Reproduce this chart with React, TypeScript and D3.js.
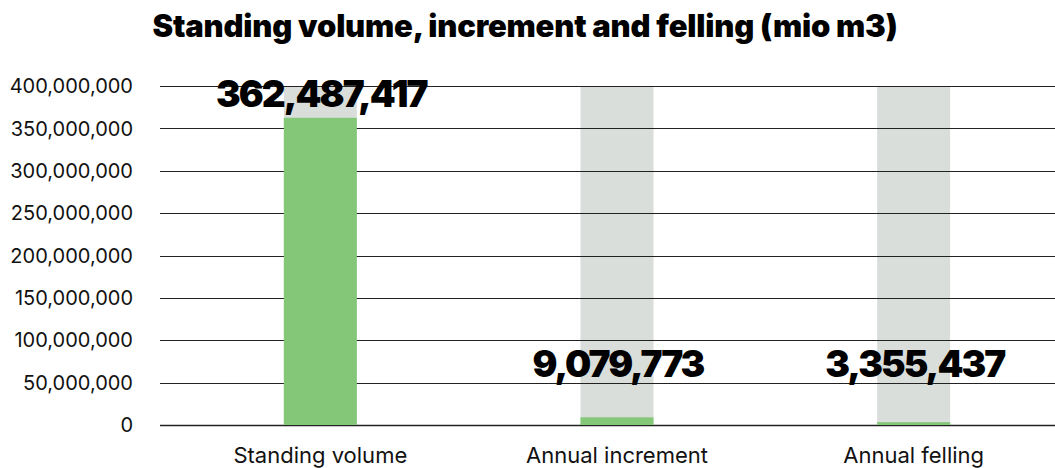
import React from "react";
import * as d3 from "d3";

// chart data
const categories: string[] = ["Standing volume", "Annual increment", "Annual felling"];
const values: number[] = [362487417, 9079773, 3355437];
const totals: number[] = [400000000, 400000000, 400000000];
const yTicks: number[] = [0, 50000000, 100000000, 150000000, 200000000, 250000000, 300000000, 350000000, 400000000];
const labelFloor: number = 44000000;

const W = 1055;
const H = 468;
const margin = { top: 86, bottom: 43, left: 160, right: 0 };
const barWidth = 73;

const GREEN = "#85c778";
const GREY = "#d9dedb";
const FONT = "Inter, 'Noto Sans', sans-serif";

export default function App() {
    const x = d3.scalePoint<string>()
        .domain(categories)
        .range([172, 1062])
        .padding(0.5);

    const y = d3.scaleLinear()
        .domain([0, 400000000])
        .range([H - margin.bottom, margin.top]);

    const fmt = d3.format(",");

    return (
        <svg
            width={W}
            height={H}
            style={{ position: "absolute", left: 0, top: 0, background: "#fff" }}
            fontFamily={FONT}
        >
            <text
                x={525}
                y={37}
                textAnchor="middle"
                fontSize={31}
                fontWeight={900}
                letterSpacing={-0.2}
                fill="#000"
            >
                Standing volume, increment and felling (mio m3)
            </text>

            {/* grey backdrop bars */}
            {categories.map((c, i) => (
                <rect
                    key={"bg" + c}
                    x={x(c)! - barWidth / 2}
                    y={y(totals[i])}
                    width={barWidth}
                    height={y(0) - y(totals[i])}
                    fill={GREY}
                />
            ))}

            {/* gridlines + tick labels */}
            {yTicks.map(t => (
                <g key={t}>
                    <line
                        x1={margin.left}
                        x2={W}
                        y1={Math.round(y(t)) + 0.5}
                        y2={Math.round(y(t)) + 0.5}
                        stroke="#222"
                        strokeWidth={t === 0 ? 1.6 : 1}
                    />
                    <text
                        x={133}
                        y={y(t)}
                        dy="0.36em"
                        textAnchor="end"
                        fontSize={20}
                        fill="#111"
                    >
                        {fmt(t)}
                    </text>
                </g>
            ))}

            {/* value bars */}
            {categories.map((c, i) => (
                <rect
                    key={"v" + c}
                    x={x(c)! - barWidth / 2}
                    y={y(values[i])}
                    width={barWidth}
                    height={y(0) - y(values[i])}
                    fill={GREEN}
                />
            ))}

            {/* value labels */}
            {categories.map((c, i) => (
                <text
                    key={"l" + c}
                    x={x(c)! + 1}
                    y={Math.min(y(values[i]), y(labelFloor)) - 11}
                    textAnchor="middle"
                    fontSize={37}
                    fontWeight={900}
                    letterSpacing={-2}
                    fill="#000"
                >
                    {fmt(values[i])}
                </text>
            ))}

            {/* category labels */}
            {categories.map(c => (
                <text
                    key={"c" + c}
                    x={x(c)!}
                    y={463}
                    textAnchor="middle"
                    fontSize={22}
                    fill="#111"
                >
                    {c}
                </text>
            ))}
        </svg>
    );
}
